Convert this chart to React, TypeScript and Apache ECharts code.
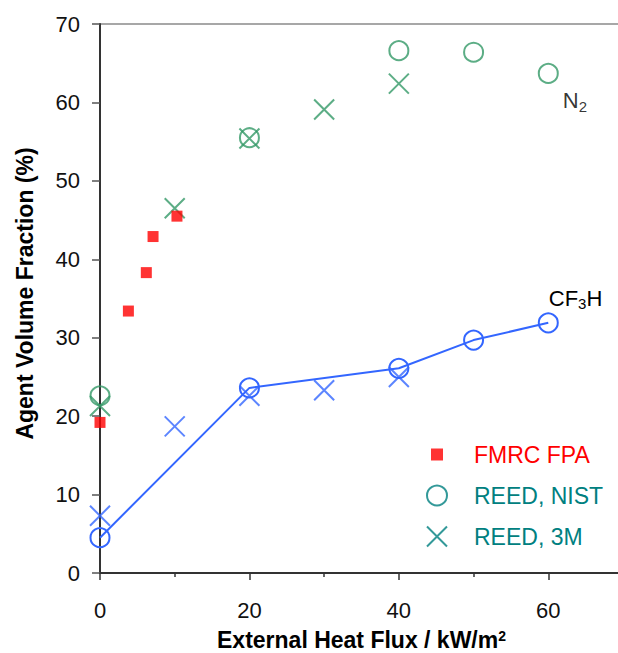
import React, { useEffect, useRef } from "react";
import * as echarts from "echarts";

// Data (x = External heat flux kW/m², y = agent volume fraction %)
const fmrcFpa: number[][] = [
  [0, 19.2], [3.8, 33.4], [6.2, 38.3], [7.1, 42.9], [10.3, 45.5],
];
const n2Nist: number[][] = [
  [0, 22.6], [20, 55.5], [40, 66.6], [50, 66.4], [60, 63.7],
];
const n2ThreeM: number[][] = [
  [0, 21.3], [10, 46.5], [20, 55.4], [30, 59.1], [40, 62.4],
];
const cf3hNist: number[][] = [
  [0, 4.5], [20, 23.6], [40, 26.1], [50, 29.7], [60, 31.9],
];
const cf3hThreeM: number[][] = [
  [0, 7.3], [10, 18.7], [20, 22.6], [30, 23.3], [40, 25.0],
];
const legendNames = ["FMRC FPA", "REED, NIST", "REED, 3M"];

const FONT = "'Liberation Sans', Arial, sans-serif";
const RED = "#FF0000";
const GREEN = "#339966";
const BLUE = "#3366FF";
const TEAL = "#008080";
const CROSS = "path://M0,0L20,20M20,0L0,20";
const SQUARE_ICON = "path://M0,0M20,20M4,4H16V16H4Z";

export default function App() {
  const ref = useRef<HTMLDivElement>(null);
  useEffect(() => {
    if (!ref.current) return;
    const chart = echarts.init(ref.current, undefined, { renderer: "svg" });
    const hollow = "rgba(0,0,0,0)";
    const lastLabel = (
      pt: number[],
      text: string,
      pos: number[]
    ) => ({
      value: pt,
      label: {
        show: true,
        position: pos,
        align: "left",
        verticalAlign: "top",
        formatter: text,
        rich: {
          a: { fontSize: 22, fontFamily: FONT, color: "#000", lineHeight: 26 },
          b: {
            fontSize: 15,
            fontFamily: FONT,
            color: "#000",
            lineHeight: 14,
            verticalAlign: "bottom",
          },
        },
      },
    });
    const withLabel = (arr: number[][], text: string, pos: number[]) =>
      arr.map((p, i) => (i === arr.length - 1 ? lastLabel(p, text, pos) : p));

    chart.setOption({
      animation: false,
      textStyle: { fontFamily: FONT },
      grid: {
        left: 100,
        right: 1,
        top: 24,
        bottom: 80,
        outerBoundsMode: "none",
        containLabel: false,
        show: true,
        borderColor: "#8a8a8a",
        borderWidth: 1.5,
        backgroundColor: "transparent",
      },
      legend: {
        orient: "vertical",
        left: 421,
        top: 438,
        itemWidth: 64,
        itemHeight: 20,
        itemGap: 18,
        selectedMode: false,
        textStyle: { fontSize: 23, fontFamily: FONT },
        data: [
          {
            name: legendNames[0],
            icon: SQUARE_ICON,
            itemStyle: { color: RED, borderWidth: 0 },
            textStyle: { color: RED },
          },
          {
            name: legendNames[1],
            icon: "circle",
            itemStyle: { color: hollow, borderColor: TEAL, borderWidth: 2 },
            textStyle: { color: TEAL },
          },
          {
            name: legendNames[2],
            icon: CROSS,
            itemStyle: { color: hollow, borderColor: TEAL, borderWidth: 2 },
            textStyle: { color: TEAL },
          },
        ],
      },
      xAxis: {
        type: "value",
        min: 0,
        max: 70,
        interval: 20,
        name: "External Heat Flux / kW/m{sup|2}",
        nameLocation: "middle",
        nameGap: 56,
        nameTextStyle: {
          fontSize: 23,
          fontWeight: "bold",
          color: "#000",
          fontFamily: FONT,
          lineHeight: 22,
          rich: {
            sup: {
              fontSize: 14,
              fontWeight: "bold",
              color: "#000",
              fontFamily: FONT,
              lineHeight: 10,
              verticalAlign: "top",
            },
          },
        },
        axisLine: { show: true, onZero: false, lineStyle: { color: "#333", width: 2 } },
        axisTick: { show: true, length: 7, lineStyle: { color: "#333", width: 1.5 } },
        minorTick: { show: true, splitNumber: 2, length: 4, lineStyle: { color: "#333", width: 1.5 } },
        axisLabel: {
          fontSize: 22,
          color: "#111",
          margin: 26,
          fontFamily: FONT,
          formatter: (v: number) => (v <= 60 ? String(v) : ""),
        },
        splitLine: { show: false },
        minorSplitLine: { show: false },
      },
      yAxis: {
        type: "value",
        min: 0,
        max: 70,
        interval: 10,
        name: "Agent Volume Fraction (%)",
        nameLocation: "middle",
        nameGap: 64,
        nameTextStyle: {
          fontSize: 23,
          fontWeight: "bold",
          color: "#000",
          fontFamily: FONT,
          padding: [0, 0, 0, 10],
        },
        axisLine: { show: true, onZero: false, lineStyle: { color: "#333", width: 2 } },
        axisTick: { show: true, length: 8, lineStyle: { color: "#555", width: 1.5 } },
        axisLabel: { fontSize: 22, color: "#111", margin: 20, fontFamily: FONT },
        splitLine: { show: false },
      },
      series: [
        {
          name: legendNames[1],
          type: "scatter",
          symbol: "circle",
          symbolSize: 19,
          itemStyle: { color: hollow, borderColor: GREEN, borderWidth: 2 },
          data: withLabel(n2Nist, "{a|N}{b|2}", [25, 25]),
          z: 2,
        },
        {
          name: legendNames[2],
          type: "scatter",
          symbol: CROSS,
          symbolSize: 20,
          itemStyle: { color: hollow, borderColor: GREEN, borderWidth: 2 },
          data: n2ThreeM,
          z: 2,
        },
        {
          name: legendNames[1],
          type: "line",
          symbol: "circle",
          symbolSize: 19,
          showAllSymbol: true,
          lineStyle: { color: BLUE, width: 2 },
          itemStyle: { color: hollow, borderColor: BLUE, borderWidth: 2 },
          data: withLabel(cf3hNist, "{a|CF}{b|3}{a|H}", [11, -27]),
          z: 2,
        },
        {
          name: legendNames[2],
          type: "scatter",
          symbol: CROSS,
          symbolSize: 20,
          itemStyle: { color: hollow, borderColor: BLUE, borderWidth: 2 },
          data: cf3hThreeM,
          z: 2,
        },
        {
          name: legendNames[0],
          type: "scatter",
          symbol: "rect",
          symbolSize: 11,
          itemStyle: { color: RED },
          data: fmrcFpa,
          z: 3,
        },
      ],
    });
    return () => chart.dispose();
  }, []);
  return (
    <div
      style={{
        position: "fixed",
        left: 0,
        top: 0,
        width: 618,
        height: 653,
        overflow: "hidden",
        background: "#fff",
      }}
    >
      <div ref={ref} style={{ width: 624, height: 653 }} />
    </div>
  );
}
